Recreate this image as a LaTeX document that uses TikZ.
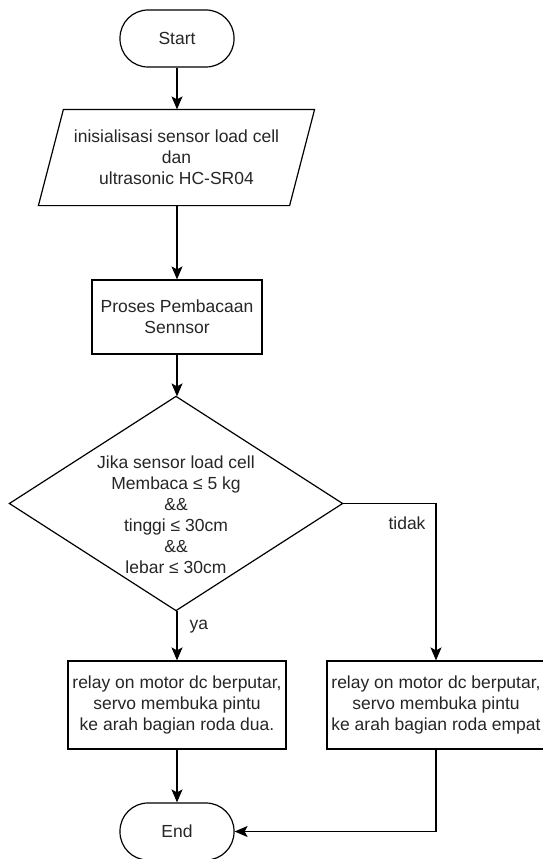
\documentclass[tikz,border=0pt]{standalone}
\usepackage{fontspec}
\setmainfont{Liberation Sans}
\usetikzlibrary{shapes.geometric,arrows.meta,calc}
\begin{document}
\begin{tikzpicture}[x=1pt,y=-1pt,
  every node/.style={font=\fontsize{17.5}{21}\selectfont, text=black!85, align=center, inner sep=0pt},
  term/.style={draw, rectangle, rounded corners=28pt, minimum width=114pt, minimum height=57pt},
  procbox/.style={draw, rectangle, minimum width=170pt, minimum height=74pt},
  actbox/.style={draw, rectangle, minimum width=218pt, minimum height=88pt},
  decframe/.style={rectangle, minimum width=332pt, minimum height=213pt},
  lbl/.style={font=\fontsize{17.5}{21}\selectfont},
  flow/.style={-{Stealth[length=13pt,width=11pt,inset=3pt]}},
  line width=1.2pt]
\useasboundingbox (0,0) rectangle (543,859);
\fill[white] (0,0) rectangle (543,859);

\node[term] (start) at (177,38.5) {Start};
\node[minimum width=250pt, minimum height=95pt] (init) at (176.5,157.5)
  {inisialisasi sensor load cell\\dan\\ultrasonic HC-SR04};
\draw ([xshift=-12.5pt]init.south west) -- ([xshift=12.5pt]init.north west)
  -- ([xshift=12.5pt]init.north east) -- ([xshift=-12.5pt]init.south east) -- cycle;
\node[procbox] (proc) at (177,317) {Proses Pembacaan\\Sennsor};
\node[decframe] (dec) at (176,503.5) {};
\draw (dec.north) -- (dec.east) -- (dec.south) -- (dec.west) -- cycle;
\node (dectext) at (176,515) {Jika sensor load cell\\Membaca ≤ 5 kg\\\&\&\\tinggi ≤ 30cm\\\&\&\\lebar ≤ 30cm};
\node[actbox] (ya) at (177,705) {relay on motor dc berputar,\\servo membuka pintu\\ke arah bagian roda dua.};
\node[actbox] (tidak) at (436,705) {relay on motor dc berputar,\\servo membuka pintu\\ke arah bagian roda empat};
\node[term] (end) at (177,831.5) {End};

\draw[flow] (start.south) -- (init.north -| start.south);
\draw[flow] (init.south -| proc.north) -- (proc.north);
\draw[flow] (proc.south) -- (dec.north -| proc.south);
\draw[flow] (dec.south -| ya.north) -- (ya.north);
\draw[flow] (dec.east) -| (tidak.north);
\draw[flow] (ya.south) -- (end.north);
\draw[flow] (tidak.south) |- (end.east);

\node[lbl, anchor=west] (lya) at (189,627) {ya};
\node[lbl] (ltidak) at (407,523) {tidak};
\end{tikzpicture}
\end{document}
